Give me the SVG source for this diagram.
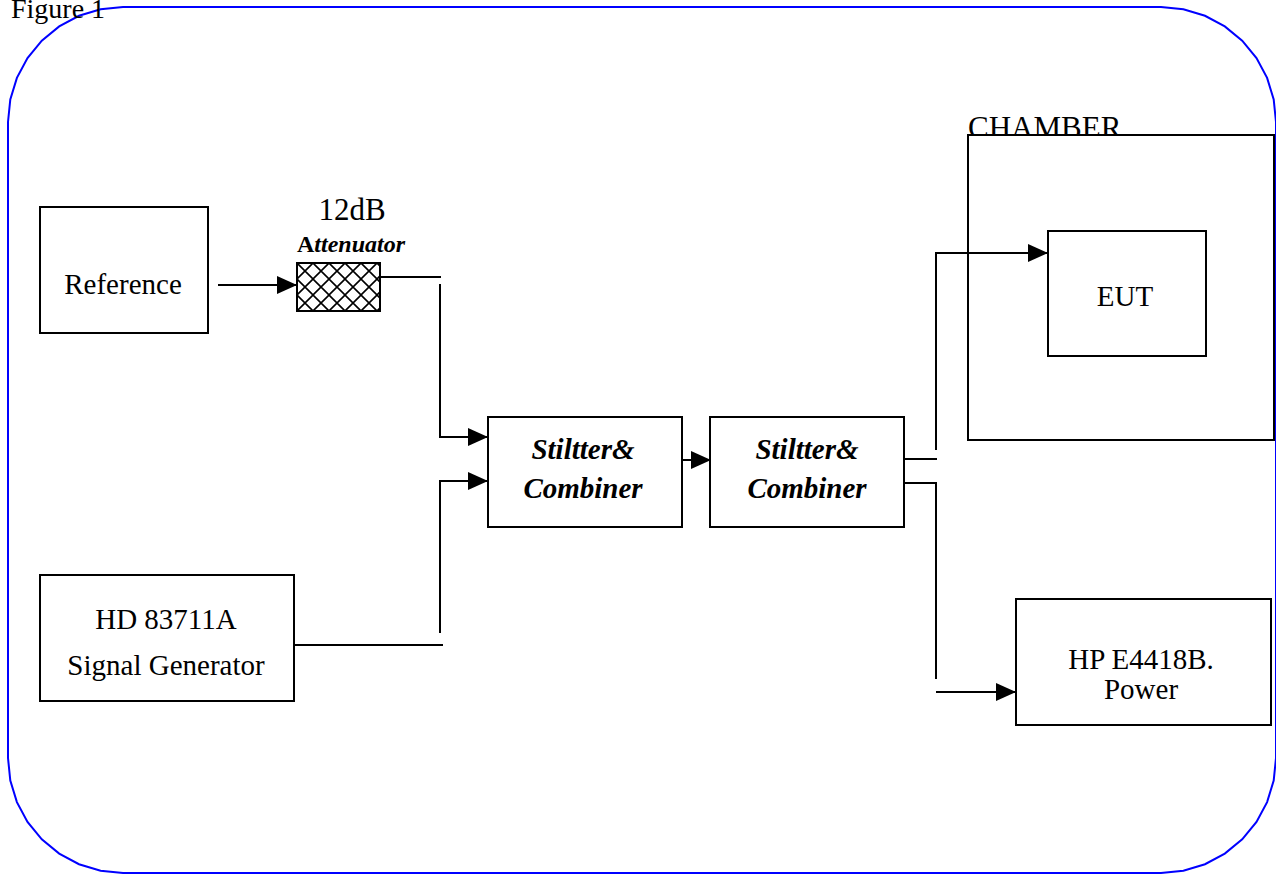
<svg xmlns="http://www.w3.org/2000/svg" width="1276" height="875" viewBox="0 0 1276 875">
<defs>
<marker id="arr" markerWidth="20" markerHeight="18" refX="20" refY="9" orient="auto" markerUnits="userSpaceOnUse">
<path d="M0,0 L20,9 L0,18 Z" fill="#000"/>
</marker>
<pattern id="hatch" width="16" height="16" patternUnits="userSpaceOnUse" x="297" y="263">
<rect width="16" height="16" fill="#fff"/>
<path d="M0,0 L16,16 M16,0 L0,16" stroke="#000" stroke-width="1.6"/>
</pattern>
</defs>
<style>
.box{fill:#fff;stroke:#000;stroke-width:2}
.t{font-family:"Liberation Serif","Times New Roman",serif;font-size:29px;fill:#000}
.bi{font-family:"Liberation Serif","Times New Roman",serif;font-size:29px;font-weight:bold;font-style:italic;fill:#000}
.ln{fill:none;stroke:#000;stroke-width:2}
</style>
<rect width="1276" height="875" fill="#fff"/>
<path id="frame" d="M123,7 L1161,7 L1183.4,9.2 L1205,15.8 L1224.8,26.4 L1242.2,40.7 L1256.5,58.1 L1267.1,77.9 L1273.7,99.5 L1276,122 L1276,758 L1273.7,780.5 L1267.1,802.1 L1256.5,821.9 L1242.2,839.3 L1224.8,853.6 L1205,864.2 L1183.4,870.8 L1161,873 L123,873 L100.6,870.8 L79,864.2 L59.2,853.6 L41.8,839.3 L27.5,821.9 L16.9,802.1 L10.3,780.5 L8,758 L8,122 L10.3,99.5 L16.9,77.9 L27.5,58.1 L41.8,40.7 L59.2,26.4 L79,15.8 L100.6,9.2 Z" fill="none" stroke="#0000ff" stroke-width="2"/>
<text class="t" x="11" y="18" style="font-size:28px">Figure 1</text>
<g id="reference">
<rect class="box" x="40" y="207" width="168" height="126"/>
<text class="t" x="123" y="294" text-anchor="middle">Reference</text>
</g>
<g id="attenuator">
<text class="t" x="352" y="220" text-anchor="middle" style="font-size:31px">12dB</text>
<text x="351" y="252" text-anchor="middle" font-family="Liberation Serif, serif" font-size="24" font-weight="bold"><tspan>A</tspan><tspan font-style="italic">ttenuator</tspan></text>
<rect x="297" y="263" width="83" height="48" fill="url(#hatch)" stroke="#000" stroke-width="2"/>
</g>
<g id="siggen">
<rect class="box" x="40" y="575" width="254" height="126"/>
<text class="t" x="166" y="629" text-anchor="middle">HD 83711A</text>
<text class="t" x="166" y="675" text-anchor="middle">Signal Generator</text>
</g>
<g id="combiner1">
<rect class="box" x="488" y="417" width="194" height="110"/>
<text class="bi" x="583" y="459" text-anchor="middle">Stiltter&amp;</text>
<text class="bi" x="583" y="498" text-anchor="middle">Combiner</text>
</g>
<g id="combiner2">
<rect class="box" x="710" y="417" width="194" height="110"/>
<text class="bi" x="807" y="459" text-anchor="middle">Stiltter&amp;</text>
<text class="bi" x="807" y="498" text-anchor="middle">Combiner</text>
</g>
<g id="chamber">
<text class="t" x="968" y="138" style="font-size:31px">CHAMBER</text>
<rect class="box" x="968" y="135" width="306" height="305"/>
</g>
<g id="eut">
<rect class="box" x="1048" y="231" width="158" height="125"/>
<text class="t" x="1125" y="306" text-anchor="middle">EUT</text>
</g>
<g id="powermeter">
<rect class="box" x="1016" y="599" width="255" height="126"/>
<text class="t" x="1141" y="669" text-anchor="middle">HP E4418B.</text>
<text class="t" x="1141" y="699" text-anchor="middle">Power</text>
</g>
<g id="connectors">
<line class="ln" x1="218" y1="285" x2="297" y2="285" marker-end="url(#arr)"/>
<line class="ln" x1="380" y1="277" x2="441" y2="277"/>
<polyline class="ln" points="440,284 440,437 488,437" marker-end="url(#arr)"/>
<polyline class="ln" points="440,633 440,481 488,481" marker-end="url(#arr)"/>
<line class="ln" x1="295" y1="645" x2="443" y2="645"/>
<line class="ln" x1="682" y1="460" x2="711" y2="460" marker-end="url(#arr)"/>
<line class="ln" x1="904" y1="459" x2="937" y2="459"/>
<polyline class="ln" points="936,450 936,253 1048,253" marker-end="url(#arr)"/>
<polyline class="ln" points="904,483 936,483 936,679"/>
<line class="ln" x1="936" y1="692" x2="1016" y2="692" marker-end="url(#arr)"/>
</g>
</svg>
